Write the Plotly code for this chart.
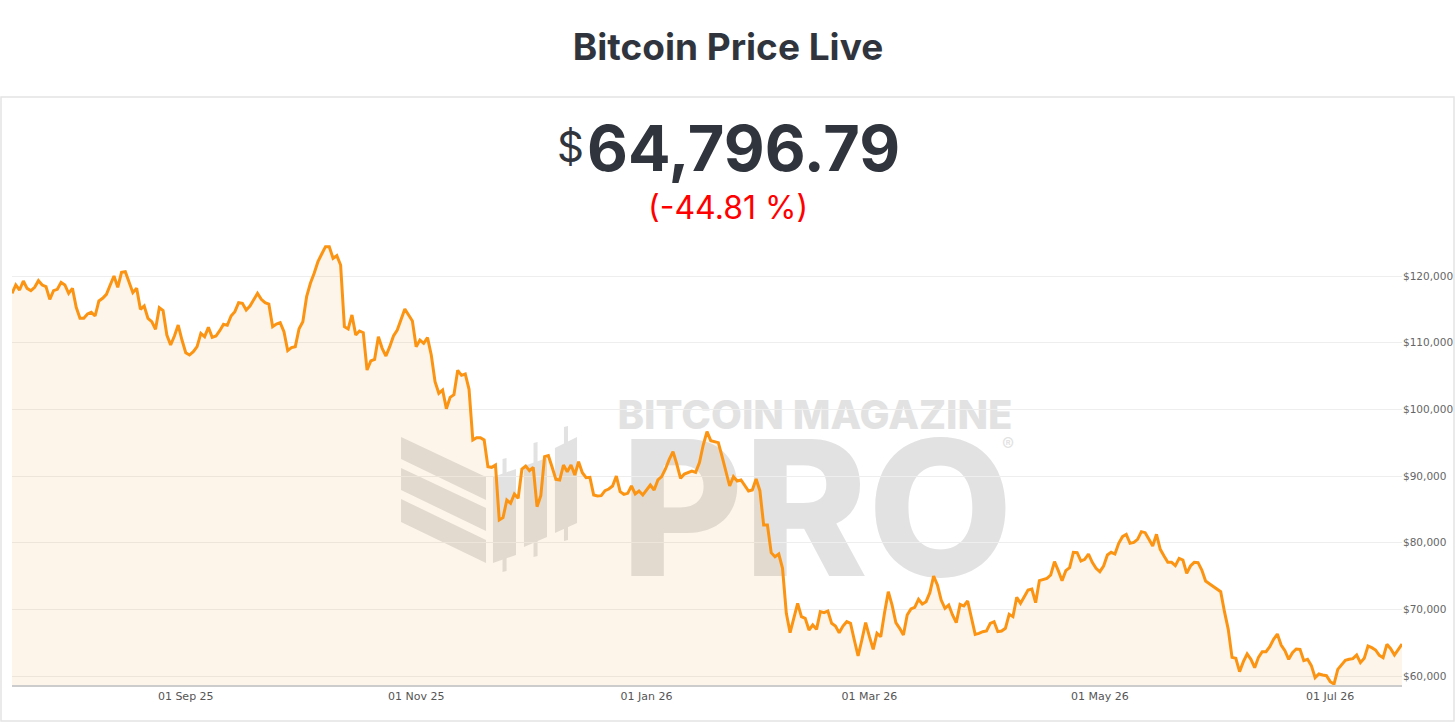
import pandas as pd
import plotly.graph_objects as go

# daily closes
START_DATE = "2025-07-17"
PRICES = [
    117400, 118650, 117900, 119250, 118150, 117800, 118300, 119300, 118650, 118400,
    116500, 117800, 118000, 119050, 118650, 117400, 118150, 115300, 113650, 113650,
    114300, 114550, 114000, 116250, 116650, 117250, 118650, 120000, 118300, 120550,
    120650, 119150, 117500, 118150, 115000, 115500, 113650, 113150, 112000, 115250,
    114800, 111150, 109650, 111000, 112650, 110400, 108500, 108150, 108650, 109400,
    111400, 110900, 112300, 110800, 111000, 111800, 112750, 112600, 114000, 114650,
    116000, 115900, 114900, 115500, 116400, 117400, 116500, 116000, 115800, 112400,
    112800, 113000, 111650, 108800, 109250, 109400, 112100, 113150, 116900, 118900,
    120400, 122150, 123300, 124400, 124400, 122650, 123050, 121650, 112400, 112050,
    114150, 111150, 111750, 111500, 105900, 107250, 107500, 110900, 109150, 108000,
    109400, 111000, 111900, 113400, 115050, 114150, 113250, 109400, 110400, 109900,
    110750, 108150, 104150, 102400, 102900, 100100, 101800, 102200, 105850, 105100,
    105300, 103000, 95400, 95750, 95750, 95400, 91400, 91300, 91650, 83400,
    83750, 86400, 85900, 87300, 86650, 91050, 91500, 90800, 91300, 85400,
    87050, 92900, 93050, 91300, 89500, 89400, 91650, 90650, 91650, 90150,
    92150, 90500, 89750, 89800, 87150, 87000, 87050, 87800, 88050, 88500,
    90000, 87650, 87250, 87400, 88500, 87300, 87750, 87150, 87900, 88650,
    87900, 89400, 89900, 91050, 92500, 93650, 91800, 89650, 90300, 90550,
    90750, 90550, 92000, 94650, 96650, 95300, 95150, 95000, 92900, 90750,
    88500, 89900, 89250, 89400, 88650, 87750, 87900, 89550, 87800, 82650,
    82650, 78500, 77900, 78300, 76150, 69400, 66500, 68650, 70900, 68900,
    68650, 66900, 67650, 67000, 69650, 69500, 69750, 67900, 67500, 66500,
    67500, 68150, 67900, 65400, 63000, 65400, 68000, 65900, 64000, 66400,
    65900, 69500, 72650, 70650, 68000, 67150, 66150, 69150, 70050, 70300,
    71500, 70800, 71150, 72500, 75000, 73650, 71400, 70150, 70650, 69150,
    68000, 70750, 70500, 71250, 68800, 66250, 66400, 66650, 66750, 67900,
    68150, 66650, 66750, 67150, 69250, 68900, 71800, 70900, 71900, 72900,
    73050, 71000, 74300, 74500, 74650, 75150, 77150, 75800, 74300, 75800,
    76250, 78550, 78500, 77250, 77500, 78300, 77050, 76150, 75650, 76500,
    78150, 78550, 78300, 79900, 80900, 81250, 79900, 80050, 80500, 81650,
    81500, 80500, 79500, 81250, 79000, 78000, 77050, 77050, 76550, 77650,
    77400, 75400, 76500, 77050, 77000, 75900, 74250, 73850, 73450, 73050,
    72650, 69650, 67000, 62800, 62650, 60650, 62150, 63300, 62500, 61250,
    62800, 63650, 63650, 64400, 65500, 66300, 64650, 63800, 62500, 63500,
    64050, 64000, 62300, 62500, 61550, 59750, 60300, 60150, 60050, 59150,
    58800, 61000, 61750, 62350, 62500, 62600, 63150, 62000, 62650, 64500,
    64250, 63900, 63100, 62750, 64750, 64100, 63150, 63900, 64796.79,
]
CHANGE_PCT = -44.81
Y_TICKS = [60000, 70000, 80000, 90000, 100000, 110000, 120000]
Y_LABELS = [f"${v:,}" for v in Y_TICKS]
Y_RANGE = [58650, 125400]
X_TICKS = ["2025-09-01", "2025-11-01", "2026-01-01", "2026-03-01", "2026-05-01", "2026-07-01"]

W, H = 1456, 725
L, R, T, B = 12, 54, 240, 40
DARK = "#30353d"
ORANGE = "#fb9412"
WATERMARK = "#e2e2e2"


def px(x):
    return (x - L) / (W - L - R)


def py(y):
    return (H - B - y) / (H - T - B)


def poly(points):
    return "M" + " L".join(f"{px(x):.4f},{py(y):.4f}" for x, y in points) + " Z"


def text_box(x0, y0, x1, y1, text, size, weight=800):
    return dict(
        type="rect", xref="paper", yref="paper",
        x0=px(x0), x1=px(x1), y0=py(y1), y1=py(y0),
        line=dict(width=0), fillcolor="rgba(0,0,0,0)", layer="between",
        label=dict(text=text, textposition="middle center",
                   font=dict(family="Inter", size=size, color=WATERMARK, weight=weight)),
    )


def logo_shapes():
    stripes = [
        [(401, 437), (486, 477), (486, 500), (401, 459)],
        [(401, 468), (486, 508), (486, 531), (401, 490)],
        [(401, 499), (486, 540), (486, 563), (401, 522)],
    ]
    candles = [
        # body x0, x1, top-left, top-right, bottom-left, bottom-right, wick top, wick bottom
        (493, 516, 477, 469, 563, 555, 459, 572),
        (524, 547, 466, 458, 547, 537, 443, 557),
        (555, 577, 448, 437, 533, 523, 427, 541),
    ]
    shapes = []
    for s in stripes:
        shapes.append(dict(type="path", xref="paper", yref="paper", path=poly(s),
                           fillcolor=WATERMARK, line=dict(width=0), layer="between"))
    for x0, x1, tl, tr, bl, br, wt, wb in candles:
        cx = (x0 + x1) / 2
        shapes.append(dict(type="path", xref="paper", yref="paper",
                           path=poly([(cx - 2, wt), (cx + 2, wt - 1), (cx + 2, wb - 1), (cx - 2, wb)]),
                           fillcolor=WATERMARK, line=dict(width=0), layer="between"))
        shapes.append(dict(type="path", xref="paper", yref="paper",
                           path=poly([(x0, tl), (x1, tr), (x1, br), (x0, bl)]),
                           fillcolor=WATERMARK, line=dict(width=0), layer="between"))
    return shapes


dates = pd.date_range(START_DATE, periods=len(PRICES), freq="D")

fig = go.Figure()
fig.add_trace(
    go.Scatter(
        x=dates,
        y=PRICES,
        mode="lines",
        line=dict(color=ORANGE, width=3),
        fill="tozeroy",
        fillcolor="rgba(247,147,26,0.09)",
        hovertemplate="%{x|%d %b %y}<br>$%{y:,.2f}<extra></extra>",
    )
)

shapes = [
    dict(type="rect", xref="paper", yref="paper",
         x0=px(1), x1=px(1454), y0=py(721), y1=py(97),
         line=dict(color="#e4e4e4", width=1.5), fillcolor="rgba(0,0,0,0)", layer="below"),
    text_box(617, 398, 1013, 428, "BITCOIN MAGAZINE", 40),
    text_box(612, 434, 1022, 568, "PRO", 188),
    text_box(998, 433, 1018, 453, "®", 18, weight=400),
] + logo_shapes()

fig.update_layout(
    width=W,
    height=H,
    margin=dict(l=L, r=R, t=T, b=B),
    paper_bgcolor="white",
    plot_bgcolor="white",
    showlegend=False,
    title=dict(
        text="Bitcoin Price Live",
        x=0.5, xref="container", xanchor="center",
        y=1 - 47 / H, yref="container", yanchor="middle",
        font=dict(family="Inter", size=37, color=DARK, weight=700),
    ),
    shapes=shapes,
    annotations=[
        dict(text=f"{PRICES[-1]:,.2f}", xref="paper", yref="paper",
             x=px(743), y=py(148), xanchor="center", yanchor="middle", showarrow=False,
             font=dict(family="Inter", size=63, color=DARK, weight=700)),
        dict(text="$", xref="paper", yref="paper",
             x=px(586), y=py(146), xanchor="right", yanchor="middle", showarrow=False,
             font=dict(family="Inter", size=42, color=DARK)),
        dict(text=f"({CHANGE_PCT:.2f} %)", xref="paper", yref="paper",
             x=px(728), y=py(207), xanchor="center", yanchor="middle", showarrow=False,
             font=dict(family="Inter", size=32, color="#ff0000")),
    ],
    xaxis=dict(
        type="date",
        range=[dates[0], dates[-1]],
        tickvals=X_TICKS,
        tickformat="%d %b %y",
        showgrid=False,
        zeroline=False,
        showline=True,
        linecolor="#cccccc",
        linewidth=2,
        ticks="",
        automargin=False,
        tickfont=dict(family="DejaVu Sans", size=11, color="#555555"),
    ),
    yaxis=dict(
        side="right",
        range=Y_RANGE,
        tickvals=Y_TICKS,
        ticktext=Y_LABELS,
        showgrid=True,
        gridcolor="#eeeeee",
        gridwidth=1,
        zeroline=False,
        showline=False,
        ticks="",
        automargin=False,
        tickfont=dict(family="DejaVu Sans", size=10.5, color="#666666"),
    ),
)

# drop the browser's default body margin so the fixed-size figure sits at 0,0
fig.write_html(
    "out.html",
    config={"displayModeBar": False},
    post_script="document.body.style.margin='0';document.body.style.overflow='hidden';",
)
